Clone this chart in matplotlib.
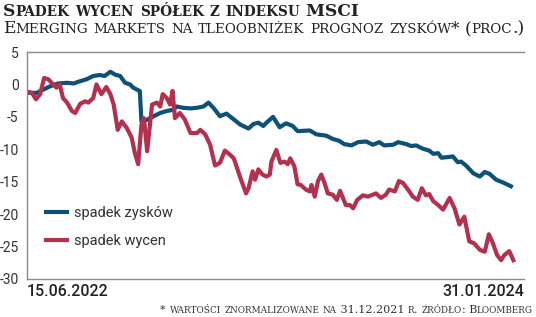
import matplotlib
matplotlib.use("Agg")
import matplotlib.pyplot as plt

# dni od 15.06.2022
days_zyski = [0, 12, 20, 28, 38, 49, 57, 65, 73, 81, 89, 95, 102, 108, 114, 120, 126, 130, 136, 138,
              140, 146, 155, 163, 171, 179, 183, 191, 200, 208, 216, 222, 228, 236, 244, 253, 261, 271,
              277, 283, 289, 293, 301, 309, 317, 325, 331, 346, 354, 366, 374, 382, 388, 397, 405, 415,
              423, 431, 437, 448, 454, 464, 470, 476, 484, 492, 497, 503, 507, 515, 521, 527, 531, 537,
              546, 554, 560, 566, 574, 582, 592]
spadek_zyskow = [-1.3, -1.3, -0.8, -0.3, 0.15, 0.25, 0.15, 0.5, 0.8, 1.3, 1.45, 1.3, 1.95, 1.5, 1.3, 0.25,
                 0.0, -0.5, -0.9, -1.0, -5.7, -5.5, -4.9, -4.4, -4.1, -3.9, -3.4, -3.6, -3.7, -3.6, -3.4,
                 -2.8, -3.6, -4.9, -4.5, -5.4, -6.2, -6.8, -6.1, -5.9, -6.4, -5.9, -5.0, -6.6, -6.0, -6.4,
                 -7.2, -7.1, -7.7, -7.9, -8.4, -8.7, -9.2, -9.4, -8.9, -8.8, -9.3, -8.9, -9.4, -9.3, -8.9,
                 -9.2, -9.5, -9.4, -9.9, -10.2, -10.7, -10.6, -11.3, -11.2, -11.1, -12.0, -11.9, -12.5,
                 -13.7, -14.2, -13.5, -13.8, -14.7, -15.1, -15.7]

days_wyceny = [0, 6, 11, 16, 21, 26, 32, 36, 40, 44, 49, 55, 59, 65, 71, 75, 81, 85, 91, 97, 102, 106,
               111, 116, 122, 128, 132, 136, 140, 143, 147, 153, 159, 163, 166, 171, 175, 178, 181, 187,
               193, 200, 208, 212, 218, 224, 230, 236, 242, 248, 253, 261, 268, 271, 276, 279, 283, 288,
               293, 297, 299, 305, 310, 315, 319, 322, 327, 331, 335, 341, 346, 348, 352, 356, 360, 364,
               368, 374, 379, 383, 390, 395, 399, 404, 411, 417, 423, 427, 433, 439, 443, 450, 455, 460,
               466, 472, 478, 483, 488, 492, 497, 503, 509, 517, 523, 529, 535, 541, 547, 554, 560, 565,
               570, 575, 580, 584, 590, 595]
spadek_wycen = [-1.1, -1.3, -2.3, -1.5, 1.0, 0.8, 0.0, -0.5, 0.0, -2.1, -2.8, -4.1, -4.4, -3.0, -2.6,
                -2.8, -2.1, 0.0, -1.5, -0.4, -1.5, -3.1, -7.0, -5.7, -6.7, -8.2, -10.6, -12.3, -6.2, -5.2,
                -10.3, -3.1, -2.8, -3.4, -1.5, -2.1, -3.1, -1.0, -5.2, -4.4, -5.4, -7.5, -7.5, -7.0, -7.7,
                -9.3, -12.5, -12.1, -10.2, -10.8, -11.4, -14.4, -16.8, -16.0, -13.4, -14.7, -13.1, -13.9,
                -14.2, -13.9, -11.9, -10.1, -12.1, -11.9, -12.3, -11.4, -12.6, -15.4, -15.5, -16.2, -16.5,
                -15.5, -17.3, -14.9, -13.9, -15.2, -16.8, -17.0, -17.8, -16.4, -18.6, -18.6, -19.1, -17.8,
                -17.1, -17.3, -17.0, -16.8, -17.5, -17.0, -16.2, -16.5, -14.9, -15.2, -16.2, -17.3, -17.8,
                -16.0, -17.1, -16.9, -18.0, -18.6, -19.3, -17.5, -19.1, -21.6, -20.4, -24.2, -24.5, -25.5,
                -25.8, -23.1, -24.5, -26.3, -27.1, -26.3, -25.7, -27.1]

y_ticks = [5, 0, -5, -10, -15, -20, -25, -30]
date_labels = ["15.06.2022", "31.01.2024"]

BLUE = "#0d5176"
RED = "#b3304f"

fig = plt.figure(figsize=(5.36, 3.17), dpi=100)
ax = fig.add_axes([27 / 536, 38 / 317, 497 / 536, 227 / 317])

ax.plot(days_zyski, spadek_zyskow, color=BLUE, lw=3.0, solid_joinstyle="round", label="spadek zysków")
ax.plot(days_wyceny, spadek_wycen, color=RED, lw=3.0, solid_joinstyle="round", label="spadek wycen")

ax.set_xlim(0, 608)
ax.set_ylim(-30, 5)
ax.set_yticks(y_ticks)
ax.set_yticklabels([str(t) for t in y_ticks], fontsize=10, family="Roboto", color="#333333")
ax.tick_params(axis="y", length=0, pad=6)
ax.set_xticks([])
for s in ["left", "bottom", "top"]:
    ax.spines[s].set_color("#8a8a8a")
    ax.spines[s].set_linewidth(1.0)
ax.spines["right"].set_visible(False)

ax.text(0, -0.02, date_labels[0], transform=ax.transAxes, ha="left", va="top",
        fontsize=11.5, family="Roboto", fontweight="medium", color="#222222")
ax.text(1, -0.02, date_labels[1], transform=ax.transAxes, ha="right", va="top",
        fontsize=11.5, family="Roboto", fontweight="medium", color="#222222")

leg = ax.legend(loc="upper left", bbox_to_anchor=(0.018, 0.365), frameon=False,
                prop={"family": "Roboto", "size": 10.5}, handlelength=1.4, handletextpad=0.5,
                labelspacing=0.95, borderaxespad=0.3)
for t in leg.get_texts():
    t.set_color("#333333")

renderer = fig.canvas.get_renderer()


def smallcaps(x, y, text, size, weight="normal", ha="left", color="#222222", ratio=0.8):
    runs = []
    for ch in text:
        small = ch.islower()
        if runs and runs[-1][1] == small:
            runs[-1][0] += ch
        else:
            runs.append([ch, small])
    widths = []
    for s, small in runs:
        fs = size * ratio if small else size
        a = fig.text(0, 0, "|" + s.upper() + "|", fontsize=fs, family="DejaVu Serif", fontweight=weight)
        b = fig.text(0, 0, "||", fontsize=fs, family="DejaVu Serif", fontweight=weight)
        widths.append(a.get_window_extent(renderer).width - b.get_window_extent(renderer).width)
        a.remove()
        b.remove()
    total = sum(widths)
    px = x * 536 - (total if ha == "right" else 0)
    for (s, small), w in zip(runs, widths):
        fs = size * ratio if small else size
        fig.text(px / 536, y, s.upper(), fontsize=fs, family="DejaVu Serif", fontweight=weight,
                 va="baseline", ha="left", color=color)
        px += w


smallcaps(3 / 536, 1 - 16 / 317, "Spadek wycen spółek z indeksu MSCI", 12.3, weight="bold")
smallcaps(3 / 536, 1 - 33 / 317, "Emerging markets na tleoobniżek prognoz zysków* (proc.)", 12.3, ratio=0.79)
smallcaps(533 / 536, 1 - 313 / 317, "* wartości znormalizowane na 31.12.2021 r. źródło: Bloomberg", 8.0,
          ha="right", color="#333333")

fig.savefig("out.png", dpi=100)
